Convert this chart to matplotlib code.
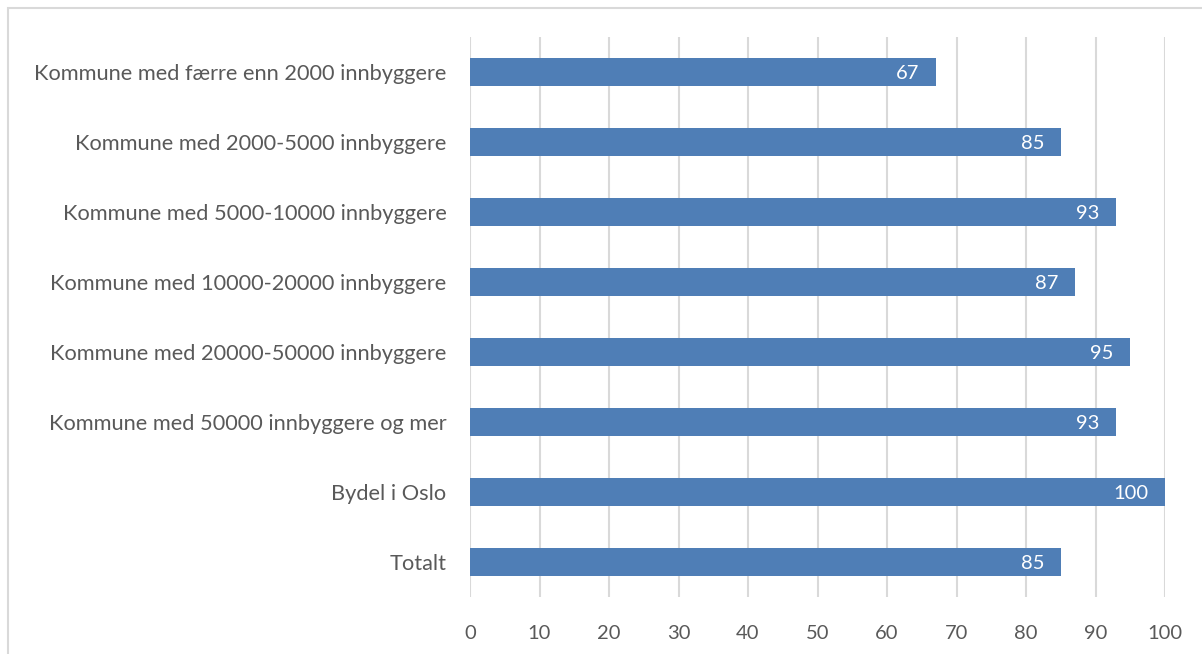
import matplotlib.pyplot as plt
from matplotlib.patches import Rectangle

categories = [
    'Kommune med færre enn 2000 innbyggere',
    'Kommune med 2000-5000 innbyggere',
    'Kommune med 5000-10000 innbyggere',
    'Kommune med 10000-20000 innbyggere',
    'Kommune med 20000-50000 innbyggere',
    'Kommune med 50000 innbyggere og mer',
    'Bydel i Oslo',
    'Totalt',
]
values = [67, 85, 93, 87, 95, 93, 100, 85]
xticks = list(range(0, 101, 10))

bar_color = '#4F7EB6'
grid_color = '#D9D9D9'
text_color = '#595959'

plt.rcParams['font.family'] = ['Lato', 'DejaVu Sans']

fig = plt.figure(figsize=(12.02, 6.54), dpi=100)
ax = fig.add_axes([470 / 1202, 1 - 597 / 654, 695 / 1202, 560 / 654])

pos = list(range(len(categories)))
ax.barh(pos, values, height=0.4, color=bar_color, zorder=3)
for p, v in zip(pos, values):
    ax.annotate(str(v), (v, p), xytext=(-12, -1), textcoords='offset points',
                ha='right', va='center', color='white', fontsize=14.5, zorder=4)

ax.set_xlim(0, 100)
ax.set_ylim(len(categories) - 0.5, -0.5)
ax.set_yticks(pos)
ax.set_yticklabels(categories)
ax.set_xticks(xticks)
ax.tick_params(axis='both', length=0, labelcolor=text_color)
ax.tick_params(axis='y', labelsize=15.7, pad=17)
ax.tick_params(axis='x', labelsize=14.5, pad=20)
ax.grid(axis='x', color=grid_color, linewidth=1.5, zorder=0)
for s in ax.spines.values():
    s.set_visible(False)

# outer chart frame, open to the right and bottom
fig.patches.append(Rectangle((8 / 1202, -0.1), 1.2, 1.1 - 8 / 654,
                             transform=fig.transFigure, fill=False,
                             edgecolor=grid_color, linewidth=1.5))

fig.savefig('out.png', dpi=100, facecolor='white')
